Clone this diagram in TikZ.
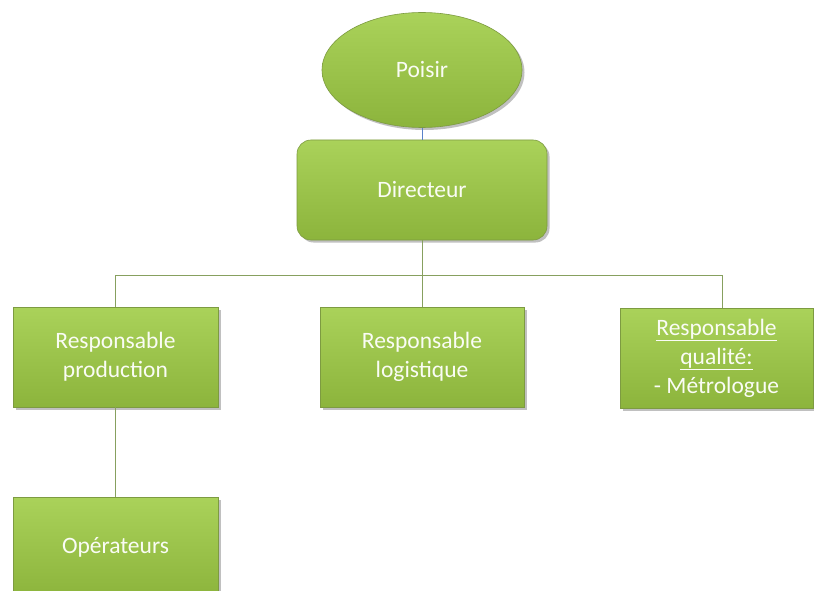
\documentclass[tikz,border=0pt]{standalone}
\usepackage{fontspec}
\setmainfont{Carlito}
\usetikzlibrary{shapes.geometric,shadows}
\definecolor{boxtop}{RGB}{170,210,90}
\definecolor{boxbot}{RGB}{140,180,60}
\definecolor{boxedge}{RGB}{125,155,65}
\definecolor{linkline}{RGB}{135,160,95}
\definecolor{toplink}{RGB}{90,130,200}
\definecolor{boxtext}{RGB}{250,252,245}
\tikzset{
  orgbox/.style={draw=boxedge, line width=0.6pt, top color=boxtop, bottom color=boxbot,
    text=boxtext, font=\fontsize{23.5}{29}\selectfont, align=center, inner sep=2pt,
    drop shadow={shadow xshift=2.5pt, shadow yshift=-2.5pt, opacity=0.35, fill=black!70}},
  link/.style={draw=linkline, line width=1pt},
}
\begin{document}
\begin{tikzpicture}[x=1pt,y=-1pt]
\useasboundingbox (0,0) rectangle (814,591);
\fill[white] (0,0) rectangle (814,591);

% top of the chart
\node[orgbox, ellipse, minimum width=200pt, minimum height=115pt] (poisir) at (422,70) {Poisir};
\node[orgbox, rectangle, rounded corners=14pt, minimum width=250pt, minimum height=100pt] (dir) at (422,190) {Directeur};

% second level
\node[orgbox, rectangle, minimum width=205pt, minimum height=100pt] (prod) at (115.5,357) {Responsable\\production};
\node[orgbox, rectangle, minimum width=204pt, minimum height=100pt] (logi) at (422,357) {Responsable\\logistique};
\node[orgbox, rectangle, minimum width=193pt, minimum height=100pt] (qual) at (716.5,358) {\underline{Responsable}\\\underline{qualité:}\\- Métrologue};

% third level
\node[orgbox, rectangle, minimum width=205pt, minimum height=100pt] (oper) at (115.5,547) {Opérateurs};

% connectors
\draw[draw=toplink, line width=1pt] (poisir.south) -- (dir.north);
\coordinate (bus) at (422,275);
\coordinate (qualin) at ([xshift=5.5pt]qual.north);
\draw[link] (dir.south) -- (bus);
\draw[link] (bus) -| (prod.north);
\draw[link] (bus) -- (logi.north);
\draw[link] (bus) -| (qualin);
\draw[link] (prod.south) -- (oper.north);
\end{tikzpicture}
\end{document}
